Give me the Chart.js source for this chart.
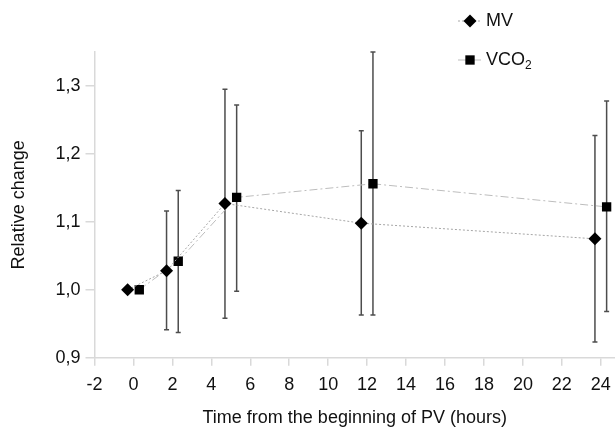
<!DOCTYPE html>
<html>
<head>
<meta charset="utf-8">
<script src="https://cdn.jsdelivr.net/npm/chart.js@4.4.0/dist/chart.umd.min.js"></script>
<style>
  html, body { margin: 0; padding: 0; background: #fff; }
  #wrap { width: 615px; height: 430px; position: relative; }
</style>
</head>
<body>
<div id="wrap"><canvas id="chart"></canvas></div>
<script>
// hours after start of PV (series are shifted a little apart on x)
const mvHours = [-0.3, 1.7, 4.7, 11.7, 23.7];
const mvValues = [1.0, 1.028, 1.127, 1.098, 1.075];
const mvUpper = [1.0, 1.116, 1.295, 1.234, 1.227];
const mvLower = [1.0, 0.941, 0.958, 0.963, 0.923];

const vco2Hours = [0.3, 2.3, 5.3, 12.3, 24.3];
const vco2Values = [1.0, 1.042, 1.136, 1.156, 1.122];
const vco2Upper = [1.0, 1.146, 1.272, 1.350, 1.278];
const vco2Lower = [1.0, 0.937, 0.998, 0.963, 0.968];

const xTicks = [-2, 0, 2, 4, 6, 8, 10, 12, 14, 16, 18, 20, 22, 24];
const yTicks = [0.9, 1.0, 1.1, 1.2, 1.3];

const FONT = "'Liberation Sans', Arial, sans-serif";
const axisColor = '#d9d9d9';

const toPoints = (xs, ys) => xs.map((x, i) => ({ x: x, y: ys[i] }));

// error bars, drawn under the markers
const errorBars = {
  id: 'errorBars',
  beforeDatasetsDraw(chart) {
    const ctx = chart.ctx;
    const xs = chart.scales.x, ys = chart.scales.y;
    ctx.save();
    ctx.strokeStyle = '#4d4d4d';
    ctx.lineWidth = 1.5;
    chart.data.datasets.forEach(ds => {
      ds.data.forEach((p, i) => {
        const px = xs.getPixelForValue(p.x);
        const top = ys.getPixelForValue(ds.upper[i]);
        const bot = ys.getPixelForValue(ds.lower[i]);
        if (Math.abs(bot - top) < 1) return;
        ctx.beginPath();
        ctx.moveTo(px, top); ctx.lineTo(px, bot);
        ctx.moveTo(px - 2.5, top); ctx.lineTo(px + 2.5, top);
        ctx.moveTo(px - 2.5, bot); ctx.lineTo(px + 2.5, bot);
        ctx.stroke();
      });
    });
    ctx.restore();
  }
};

// legend in the top right corner
const cornerLegend = {
  id: 'cornerLegend',
  afterDraw(chart) {
    const ctx = chart.ctx;
    const rows = [
      { ds: chart.data.datasets[0], y: 21 },
      { ds: chart.data.datasets[1], y: 60 }
    ];
    ctx.save();
    rows.forEach(r => {
      ctx.strokeStyle = r.ds.borderColor;
      ctx.lineWidth = 1;
      ctx.setLineDash(r.ds.borderDash);
      ctx.beginPath();
      ctx.moveTo(458, r.y); ctx.lineTo(481, r.y);
      ctx.stroke();
      ctx.setLineDash([]);
      ctx.fillStyle = '#000';
      ctx.strokeStyle = '#000';
      Chart.helpers.drawPoint(ctx, { pointStyle: r.ds.pointStyle, radius: r.ds.pointRadius, borderWidth: 0 }, 470, r.y);
      ctx.fillStyle = '#111';
      ctx.font = '18px ' + FONT;
      ctx.textBaseline = 'middle';
      ctx.textAlign = 'left';
      const main = r.ds.legendText;
      ctx.fillText(main, 486, r.y);
      if (r.ds.legendSub) {
        const w = ctx.measureText(main).width;
        ctx.font = '12px ' + FONT;
        ctx.fillText(r.ds.legendSub, 486 + w, r.y + 6);
      }
    });
    ctx.restore();
  }
};

new Chart(document.getElementById('chart'), {
  type: 'scatter',
  data: {
    datasets: [
      {
        label: 'MV',
        legendText: 'MV',
        data: toPoints(mvHours, mvValues),
        upper: mvUpper,
        lower: mvLower,
        showLine: true,
        borderColor: '#a6a6a6',
        borderWidth: 1,
        borderDash: [2, 2],
        pointStyle: 'rectRot',
        pointRadius: 6.5,
        pointBackgroundColor: '#000',
        pointBorderWidth: 0
      },
      {
        label: 'VCO₂',
        legendText: 'VCO',
        legendSub: '2',
        data: toPoints(vco2Hours, vco2Values),
        upper: vco2Upper,
        lower: vco2Lower,
        showLine: true,
        borderColor: '#bdbdbd',
        borderWidth: 1,
        borderDash: [8, 3, 2, 3],
        pointStyle: 'rect',
        pointRadius: 6.6,
        pointBackgroundColor: '#000',
        pointBorderWidth: 0
      }
    ]
  },
  options: {
    responsive: true,
    maintainAspectRatio: false,
    animation: false,
    layout: { autoPadding: false, padding: { top: 52, right: 0, left: 0, bottom: 0 } },
    plugins: {
      legend: { display: false },
      tooltip: { enabled: false }
    },
    scales: {
      x: {
        type: 'linear',
        min: -2,
        max: 24.73,
        afterBuildTicks: s => { s.ticks = xTicks.map(v => ({ value: v })); },
        afterFit: s => { s.height = 72.3; s.paddingLeft = 0; s.paddingRight = 0; },
        grid: { drawOnChartArea: false, drawTicks: true, tickLength: 8, color: axisColor, lineWidth: 1.5 },
        border: { display: true, color: axisColor, width: 1.5 },
        ticks: { color: '#111', font: { family: FONT, size: 18 }, padding: 9, maxRotation: 0, autoSkip: false },
        title: {
          display: true,
          text: 'Time from the beginning of PV (hours)',
          color: '#111',
          font: { family: FONT, size: 18 },
          padding: { top: 0, bottom: 1 }
        }
      },
      y: {
        type: 'linear',
        min: 0.9,
        max: 1.35,
        afterBuildTicks: s => { s.ticks = yTicks.map(v => ({ value: v })); },
        afterFit: s => { s.width = 94.5; },
        grid: { drawOnChartArea: false, drawTicks: true, tickLength: 9, color: axisColor, lineWidth: 1.5 },
        border: { display: true, color: axisColor, width: 1.5 },
        ticks: {
          color: '#111',
          font: { family: FONT, size: 18 },
          padding: 5,
          callback: v => v.toFixed(1).replace('.', ',')
        },
        title: {
          display: true,
          text: 'Relative change',
          color: '#111',
          font: { family: FONT, size: 18 },
          padding: { top: 8, bottom: 0 }
        }
      }
    }
  },
  plugins: [errorBars, cornerLegend]
});
</script>
</body>
</html>
